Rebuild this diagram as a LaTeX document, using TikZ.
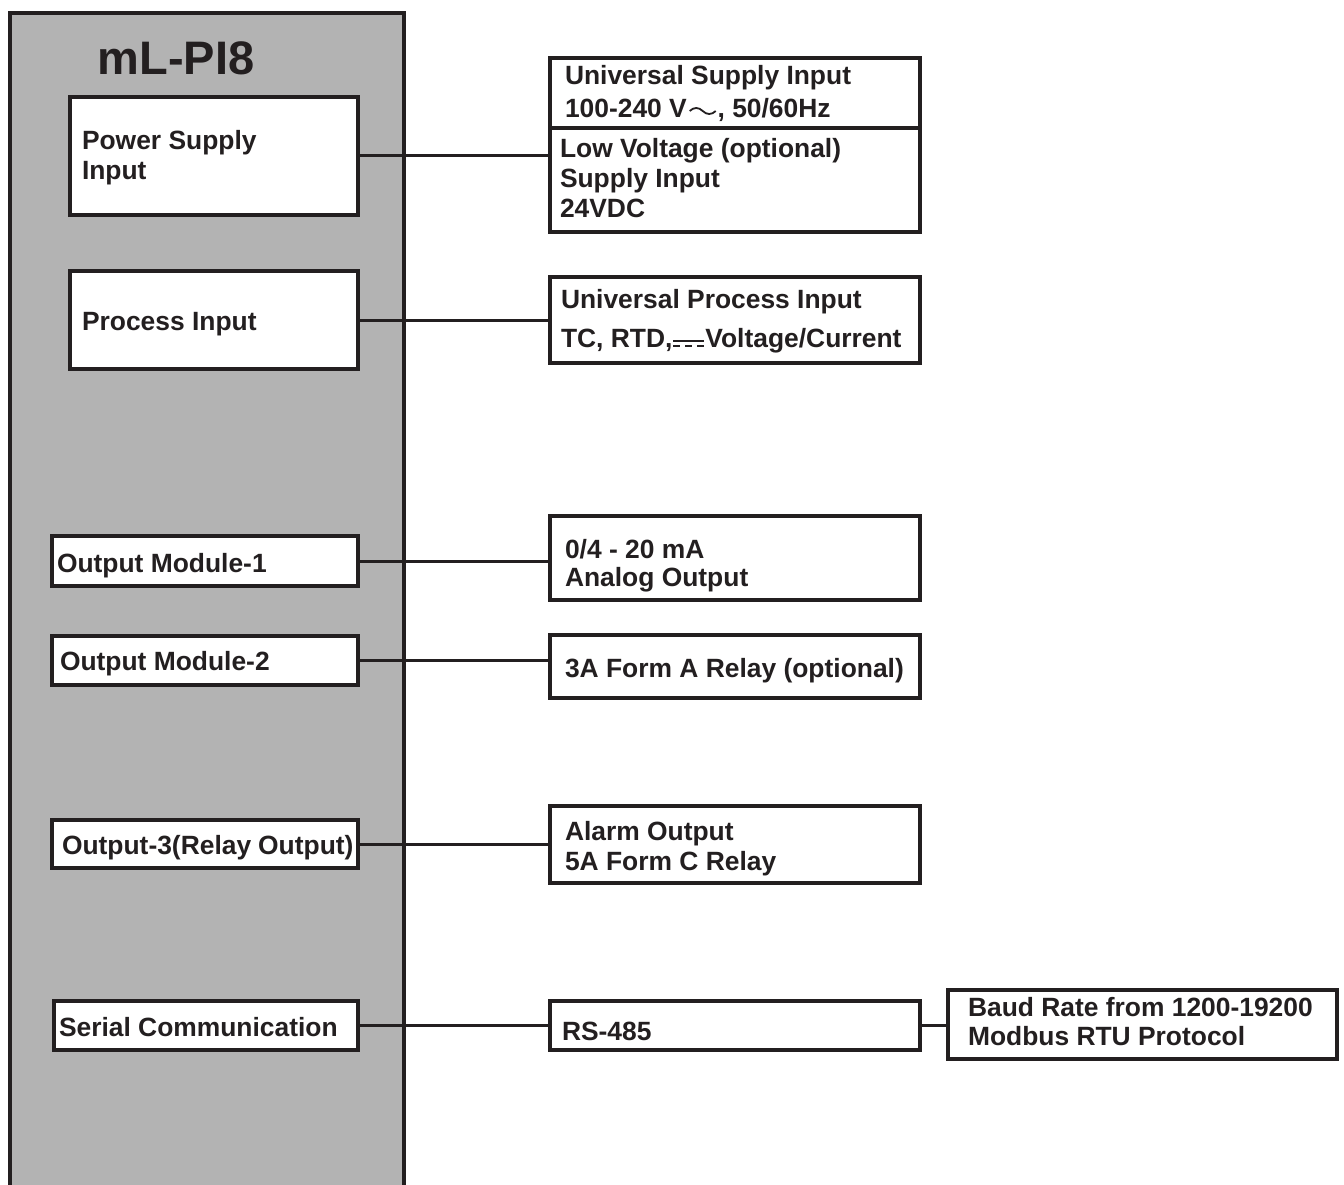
\documentclass[tikz,border=0pt]{standalone}
\usepackage{fontspec}
\setmainfont{Liberation Sans}
\usepackage{tikz}
\usetikzlibrary{calc}
\definecolor{ink}{HTML}{231F20}
\definecolor{unitgray}{HTML}{B3B3B3}
\tikzset{blk/.style={draw=ink, line width=3.2pt, fill=white, text=ink, rectangle,
    align=flush left, inner ysep=2pt, font=\fontsize{26.4}{30}\selectfont\bfseries,
    execute at begin node={\rightskip=0pt plus 1fil minus 40pt\hyphenpenalty=10000\exhyphenpenalty=10000}},
  wire/.style={draw=ink, line width=3pt}}
% AC and DC signs
\newcommand{\acsign}{\kern2pt\tikz[baseline=0pt]\draw[ink, line width=1.8pt]
  (0pt,7pt) .. controls (4pt,11pt) and (9pt,11pt) .. (13pt,7pt)
  .. controls (17pt,3pt) and (22pt,3pt) .. (26pt,7pt);\kern1pt}
\newcommand{\dcsign}{\kern1pt\mbox{\rlap{\raisebox{5pt}{\rule{31pt}{2pt}}}%
  \rule{7pt}{2pt}\kern5pt\rule{7pt}{2pt}\kern5pt\rule{7pt}{2pt}}\kern1pt}

\begin{document}
\begin{tikzpicture}[x=1pt,y=-1pt]
\useasboundingbox (0,0) rectangle (1344,1185);
\clip (0,0) rectangle (1344,1185);
% the unit
\draw[draw=ink, fill=unitgray, line width=3.2pt] (10,13) rectangle (404,1210);
\node[text=ink, font=\fontsize{47}{50}\selectfont\bfseries, anchor=base west] (title) at (94,75) {mL-PI8};

% blocks inside the unit
\node[blk, minimum width=288pt, minimum height=118pt, text width=264pt, inner xsep=12pt, text height=0pt, text depth=12pt] (pwr) at (214,156) {Power Supply\\Input};
\node[blk, minimum width=288pt, minimum height=98pt, text width=264pt, inner xsep=12pt, text height=20pt, text depth=0pt] (proc) at (214,320) {Process Input};
\node[blk, minimum width=306pt, minimum height=50pt, text width=296pt, inner xsep=5pt, text height=22pt, text depth=0pt] (om1) at (205,561) {Output Module-1};
\node[blk, minimum width=306pt, minimum height=49pt, text width=290pt, inner xsep=8pt, text height=19pt, text depth=0pt] (om2) at (205,660.5) {Output Module-2};
\node[blk, minimum width=306pt, minimum height=48pt, text width=286pt, inner xsep=10pt, text height=20pt, text depth=0pt] (out3) at (205,844) {Output-3(Relay Output)};
\node[blk, minimum width=304pt, minimum height=49pt, text width=294pt, inner xsep=5pt, text height=21pt, text depth=0pt] (ser) at (206,1025.5) {Serial Communication};

% blocks outside
\node[blk, minimum width=370pt, minimum height=70pt, text width=340pt, inner xsep=15pt, text height=0pt, text depth=16pt] (usup) at (735,93) {Universal Supply Input\\[3pt]100-240 V\acsign, 50/60Hz};
\node[blk, minimum width=370pt, minimum height=104pt, text width=350pt, inner xsep=10pt, text height=0pt, text depth=44pt] (lowv) at (735,180) {Low Voltage (optional)\\Supply Input\\24VDC};
\node[blk, minimum width=370pt, minimum height=86pt, text width=348pt, inner xsep=11pt, text height=0pt, text depth=24pt] (uproc) at (735,320) {Universal Process Input\\[9pt]TC, RTD,\dcsign Voltage/Current};
\node[blk, minimum width=370pt, minimum height=84pt, text width=340pt, inner xsep=15pt, text height=0pt, text depth=0pt] (ana) at (735,558) {0/4 - 20 mA\\[-2pt]Analog Output};
\node[blk, minimum width=370pt, minimum height=63pt, text width=340pt, inner xsep=15pt, text height=21pt, text depth=0pt] (rly) at (735,666.5) {3A Form A Relay (optional)};
\node[blk, minimum width=370pt, minimum height=77pt, text width=340pt, inner xsep=15pt, text height=0pt, text depth=9pt] (alm) at (735,844.5) {Alarm Output\\5A Form C Relay};
\node[blk, minimum width=370pt, minimum height=49pt, text width=346pt, inner xsep=12pt, text height=29pt, text depth=0pt] (rs) at (735,1025.5) {RS-485};
\node[blk, minimum width=389pt, minimum height=69pt, text width=349pt, inner xsep=20pt, text height=0pt, text depth=17pt] (baud) at (1142.5,1024.5) {Baud Rate from 1200-19200\\[-1pt]Modbus RTU Protocol};

% connectors
\draw[wire] (pwr.east) -- (pwr.east -| lowv.west);
\draw[wire] (proc.east) -- (proc.east -| uproc.west);
\draw[wire] (om1.east) -- (om1.east -| ana.west);
\draw[wire] (om2.east) -- (om2.east -| rly.west);
\draw[wire] (out3.east) -- (out3.east -| alm.west);
\draw[wire] (ser.east) -- (ser.east -| rs.west);
\draw[wire] (rs.east) -- (rs.east -| baud.west);
\end{tikzpicture}
\end{document}
